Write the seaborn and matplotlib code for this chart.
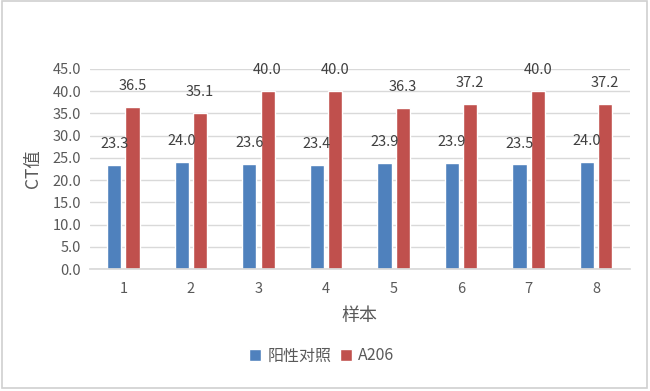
import matplotlib
matplotlib.use("Agg")
import matplotlib.pyplot as plt
import seaborn as sns
import pandas as pd
from matplotlib.patches import Rectangle

samples = ["1", "2", "3", "4", "5", "6", "7", "8"]
positive_ctrl = [23.3, 24.0, 23.6, 23.4, 23.9, 23.9, 23.5, 24.0]
a206 = [36.5, 35.1, 40.0, 40.0, 36.3, 37.2, 40.0, 37.2]
series_names = ["阳性对照", "A206"]
y_ticks = [0, 5, 10, 15, 20, 25, 30, 35, 40, 45]

df = pd.DataFrame({
    "样本": samples * 2,
    "CT值": positive_ctrl + a206,
    "series": [series_names[0]] * len(samples) + [series_names[1]] * len(samples),
})

sns.set_theme(style="white")
plt.rcParams["font.family"] = ["Noto Sans CJK SC", "DejaVu Sans"]

fig = plt.figure(figsize=(6.5, 3.91), dpi=100)
fig.patches.append(Rectangle((0.003, 0.008), 0.992, 0.99, transform=fig.transFigure,
                             fill=False, edgecolor="#d0d0d0", linewidth=1.2))
ax = fig.add_axes([0.138, 0.312, 0.831, 0.512])

palette = {series_names[0]: "#4F81BD", series_names[1]: "#C0504D"}
sns.barplot(data=df, x="样本", y="CT值", hue="series", palette=palette,
            width=0.54, gap=0.22, saturation=1, ax=ax, legend=True)

ax.set_ylim(0, 45)
ax.set_yticks(y_ticks)
ax.set_yticklabels([f"{v:.1f}" for v in y_ticks])
ax.set_xlim(-0.5, len(samples) - 0.5)
ax.yaxis.grid(True, color="#d9d9d9", linewidth=1)
ax.set_axisbelow(True)
for s in ["top", "right", "left"]:
    ax.spines[s].set_visible(False)
ax.spines["bottom"].set_color("#d9d9d9")
ax.tick_params(axis="both", length=0, labelsize=10.5, colors="#595959", pad=6)
ax.tick_params(axis="x", pad=9)

ax.set_ylabel("CT值", fontsize=12.5, color="#595959", labelpad=8)
ax.set_xlabel("样本", fontsize=13, color="#595959", labelpad=8)

for container in ax.containers:
    ax.bar_label(container, fmt="%.1f", padding=10, fontsize=10.5, color="#404040")

handles, labels = ax.get_legend_handles_labels()
ax.legend(handles, labels, loc="upper center", bbox_to_anchor=(0.43, -0.32),
          ncol=2, frameon=False, fontsize=11.5, handlelength=0.75, handleheight=0.75,
          handletextpad=0.4, columnspacing=0.5, labelcolor="#595959")

fig.savefig("out.png", dpi=100)
